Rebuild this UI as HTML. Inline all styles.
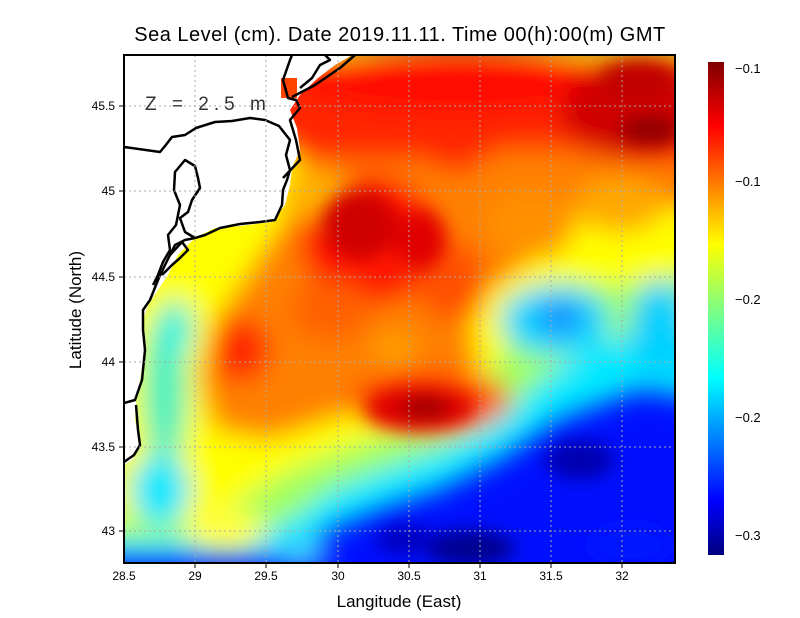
<!DOCTYPE html>
<html><head><meta charset="utf-8"><style>
html,body{margin:0;padding:0;background:#fff;}
svg{display:block;font-family:"Liberation Sans",sans-serif;}
</style></head><body>
<svg width="800" height="618" viewBox="0 0 800 618" xmlns="http://www.w3.org/2000/svg">
<defs>
<clipPath id="pc"><rect x="124" y="55" width="551" height="508"/></clipPath>
<filter id="bl" x="-20%" y="-20%" width="140%" height="140%"><feGaussianBlur stdDeviation="13"/></filter>
<filter id="bl2" x="-20%" y="-20%" width="140%" height="140%"><feGaussianBlur stdDeviation="9"/></filter>
<linearGradient id="cb" x1="0" y1="1" x2="0" y2="0">
<stop offset="0" stop-color="#00007f"/><stop offset="0.11" stop-color="#0000ff"/>
<stop offset="0.36" stop-color="#00ffff"/><stop offset="0.5" stop-color="#80ff80"/>
<stop offset="0.63" stop-color="#ffff00"/><stop offset="0.87" stop-color="#ff0000"/>
<stop offset="1" stop-color="#7f0000"/></linearGradient>
</defs>
<g clip-path="url(#pc)">
<rect x="100" y="40" width="600" height="540" fill="#0010ff"/>
<g filter="url(#bl)">
<polygon points="100,40 700,40 700,400 640,390 560,420 500,460 440,490 380,510 330,530 300,560 100,560" fill="#00e8ff"/>
<polygon points="100,40 700,40 700,330 600,340 540,380 500,420 440,450 380,470 330,490 290,520 240,540 100,540" fill="#a0ff60"/>
<polygon points="100,40 700,40 700,270 620,285 560,280 520,300 500,360 460,410 400,430 340,450 290,470 240,500 200,520 100,520" fill="#ffff00"/>
<ellipse cx="555" cy="320" rx="55" ry="35" fill="#00d8ff"/>
<ellipse cx="660" cy="330" rx="30" ry="50" fill="#00d0ff"/>
<ellipse cx="560" cy="318" rx="25" ry="18" fill="#2090ff"/>
<ellipse cx="165" cy="390" rx="22" ry="80" fill="#40f0c0"/>
<ellipse cx="175" cy="330" rx="18" ry="30" fill="#20f0e0"/>
<ellipse cx="160" cy="490" rx="30" ry="35" fill="#00e8ff"/>
<ellipse cx="225" cy="530" rx="40" ry="22" fill="#ffff40"/>
<ellipse cx="300" cy="555" rx="30" ry="15" fill="#40c8ff"/>
<polygon points="330,55 700,55 700,210 600,200 560,230 520,270 490,290 470,330 480,360 450,390 400,400 330,420 270,440 215,430 200,380 215,320 250,270 290,210 310,130" fill="#ff8000"/>
<polygon points="124,55 700,55 700,160 640,165 560,150 500,150 460,175 420,160 330,160 300,160" fill="#ff2800"/>
<ellipse cx="530" cy="225" rx="45" ry="35" fill="#ff9000"/>
<ellipse cx="620" cy="205" rx="45" ry="28" fill="#ffa800"/>
<ellipse cx="430" cy="400" rx="80" ry="32" fill="#ff5000"/>
<ellipse cx="370" cy="240" rx="70" ry="65" fill="#ff1800"/>
<ellipse cx="450" cy="280" rx="35" ry="40" fill="#ff5000"/>
<ellipse cx="240" cy="350" rx="30" ry="32" fill="#ff2800"/>
<ellipse cx="460" cy="80" rx="160" ry="35" fill="#ff1000"/>
<ellipse cx="630" cy="110" rx="70" ry="45" fill="#d00000"/>
<ellipse cx="315" cy="195" rx="35" ry="25" fill="#ffb000"/>
<ellipse cx="330" cy="310" rx="40" ry="30" fill="#ff6000"/>
<ellipse cx="395" cy="350" rx="22" ry="18" fill="#ffa000"/>
</g>
<g filter="url(#bl2)">
<ellipse cx="420" cy="408" rx="55" ry="22" fill="#e00000"/>
<ellipse cx="425" cy="408" rx="25" ry="12" fill="#a00000"/>
<ellipse cx="650" cy="130" rx="30" ry="14" fill="#900000"/>
<ellipse cx="640" cy="80" rx="40" ry="20" fill="#c00000"/>
<ellipse cx="360" cy="225" rx="38" ry="35" fill="#d00000"/>
<ellipse cx="420" cy="240" rx="25" ry="30" fill="#e00000"/>
<ellipse cx="580" cy="460" rx="35" ry="20" fill="#0000b0"/>
<ellipse cx="470" cy="548" rx="45" ry="18" fill="#000090"/>
<ellipse cx="405" cy="540" rx="30" ry="15" fill="#0000c0"/>
<ellipse cx="630" cy="545" rx="40" ry="20" fill="#0018ff"/>
</g>
<!-- land -->
<polygon points="124,55 352,55 335,65 318,78 300,95 290,110 297,128 300,150 292,168 290,185 285,205 272,222 240,226 215,228 195,238 178,255 168,275 158,290 148,305 143,320 145,345 140,380 136,400 135,420 140,445 132,460 124,465" fill="#fff"/>
<rect x="281" y="78" width="16" height="20" fill="#ff4400"/>
<g fill="none" stroke="#000" stroke-width="2.5" stroke-linejoin="round">
<path d="M124,147 L160,152 L165,146 L172,137 L185,135 L196,128 L215,122 L232,121 L250,118 L265,120 L279,126 L290,140 L286,155 L290,170 L287,180 L283,190 L282,205 L275,220 L260,222 L240,224 L220,228 L205,235 L195,238"/>
<path d="M283,178 L300,160 L296,140 L290,120 L300,108 L296,100 L288,98 L283,80 L290,60 L292,55"/>
<path d="M292,97 L315,85 L340,68 L355,55"/>
<path d="M300,88 L312,78 L320,65 L330,60 L325,55"/>
<path d="M195,238 L185,232 L180,218 L188,212 L192,200 L200,188 L198,178 L195,166 L185,160 L175,172 L174,190 L180,205 L176,225 L168,235 L170,250 L163,262 L158,275 L153,285"/>
<path d="M170,255 L182,242 L188,250 L180,258 L172,265 L162,275"/>
<path d="M195,238 L185,240 L175,245 L165,265 L158,280 L150,300 L143,310 L143,330 L145,350 L142,380 L135,400 L124,403"/>
<path d="M136,405 L138,430 L140,445 L134,455 L124,462"/>
</g>
<g stroke="#aaa" stroke-width="1" stroke-dasharray="2,3">
<line x1="195" y1="55" x2="195" y2="563"/><line x1="266" y1="55" x2="266" y2="563"/>
<line x1="338" y1="55" x2="338" y2="563"/><line x1="409" y1="55" x2="409" y2="563"/>
<line x1="480" y1="55" x2="480" y2="563"/><line x1="551" y1="55" x2="551" y2="563"/>
<line x1="622" y1="55" x2="622" y2="563"/>
<line x1="124" y1="106" x2="675" y2="106"/><line x1="124" y1="191" x2="675" y2="191"/>
<line x1="124" y1="277" x2="675" y2="277"/><line x1="124" y1="362" x2="675" y2="362"/>
<line x1="124" y1="447" x2="675" y2="447"/><line x1="124" y1="531" x2="675" y2="531"/>
</g>
</g>
<text x="145" y="110" font-size="19" fill="#333" letter-spacing="5">Z = 2.5 m</text>
<rect x="124" y="55" width="551" height="508" fill="none" stroke="#000" stroke-width="2"/>
<g stroke="#000" stroke-width="1">
<line x1="195" y1="563" x2="195" y2="568"/><line x1="266" y1="563" x2="266" y2="568"/>
<line x1="338" y1="563" x2="338" y2="568"/><line x1="409" y1="563" x2="409" y2="568"/>
<line x1="480" y1="563" x2="480" y2="568"/><line x1="551" y1="563" x2="551" y2="568"/>
<line x1="622" y1="563" x2="622" y2="568"/>
<line x1="119" y1="106" x2="124" y2="106"/><line x1="119" y1="191" x2="124" y2="191"/>
<line x1="119" y1="277" x2="124" y2="277"/><line x1="119" y1="362" x2="124" y2="362"/>
<line x1="119" y1="447" x2="124" y2="447"/><line x1="119" y1="531" x2="124" y2="531"/>
</g>
<g font-size="12" fill="#000" text-anchor="middle">
<text x="124" y="580">28.5</text><text x="195" y="580">29</text><text x="266" y="580">29.5</text>
<text x="338" y="580">30</text><text x="409" y="580">30.5</text><text x="480" y="580">31</text>
<text x="551" y="580">31.5</text><text x="622" y="580">32</text>
</g>
<g font-size="12" fill="#000" text-anchor="end">
<text x="115" y="110">45.5</text><text x="115" y="195">45</text><text x="115" y="281">44.5</text>
<text x="115" y="366">44</text><text x="115" y="451">43.5</text><text x="115" y="535">43</text>
</g>
<text x="400" y="41" font-size="20" text-anchor="middle" letter-spacing="0.5">Sea Level (cm). Date 2019.11.11. Time 00(h):00(m) GMT</text>
<text x="399" y="607" font-size="17" text-anchor="middle">Langitude (East)</text>
<text transform="translate(81,310) rotate(-90)" font-size="17" text-anchor="middle">Latitude (North)</text>
<rect x="708" y="62" width="16" height="493" fill="url(#cb)"/>
<g font-size="13" fill="#000">
<text x="735" y="73">−0.1</text><text x="735" y="186">−0.1</text><text x="735" y="304">−0.2</text>
<text x="735" y="422">−0.2</text><text x="735" y="540">−0.3</text>
</g>
</svg>
</body></html>
